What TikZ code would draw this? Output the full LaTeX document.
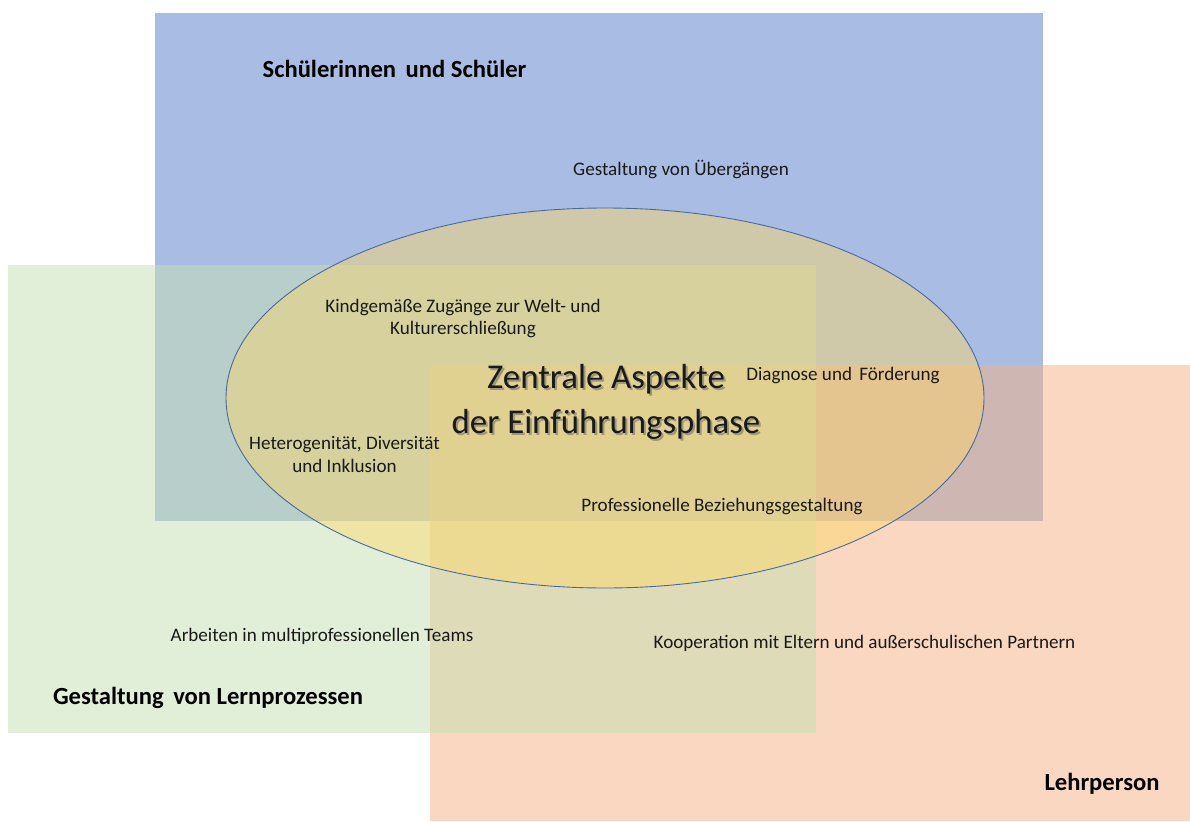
\documentclass[tikz,border=0pt]{standalone}
\usepackage{fontspec}
\setmainfont{Carlito}
\definecolor{cblue}{HTML}{A9BCE3}
\definecolor{corange}{HTML}{F4B183}
\definecolor{cgreen}{HTML}{C5E0B4}
\definecolor{cyellow}{HTML}{FFD966}
\definecolor{cedge}{HTML}{4A6A9E}
\definecolor{ctext}{HTML}{1A1A1A}
\begin{document}
\begin{tikzpicture}[x=1pt,y=-1pt,
  small/.style={font=\fontsize{19.1}{22}\selectfont, text=ctext, inner sep=0pt, align=center},
  heading/.style={font=\fontsize{24.6}{28}\selectfont\bfseries, text=black, inner sep=0pt},
  bigtext/.style={font=\fontsize{34.8}{44.5}\selectfont, inner sep=0pt, align=center}]
\useasboundingbox (0,0) rectangle (1190,821);
\fill[white] (0,0) rectangle (1190,821);
% areas
\fill[cblue] (155,13) rectangle (1043,521);
\fill[corange, opacity=0.5] (430,365) rectangle (1190,821);
\fill[cgreen, opacity=0.5] (8,265) rectangle (816,733);
% central ellipse
\fill[cyellow, opacity=0.45] (605,398) ellipse [x radius=379pt, y radius=190pt];
\draw[cedge, line width=0.9pt] (605,398) ellipse [x radius=379pt, y radius=190pt];
% headings
\node[heading] (hs) at (394.5,69) {Schülerinnen\hspace{4pt} und Schüler};
\node[heading] (hl) at (208,698) {Gestaltung\hspace{4pt} von Lernprozessen};
\node[heading] (hp) at (1102,784) {Lehrperson};
% central title with shadow
\node[bigtext, text=black!60, opacity=0.55] (zs) at (608,404) {Zentrale Aspekte\\der Einführungsphase};
\node[bigtext, text=ctext] (z) at (606,402) {Zentrale Aspekte\\der Einführungsphase};
% aspects
\node[small] (t1) at (681,169) {Gestaltung von Übergängen};
\node[small, font=\fontsize{19.1}{22}\selectfont] (t2) at (463,319) {Kindgemäße Zugänge zur Welt- und\\Kulturerschließung};
\node[small] (t3) at (843,376) {Diagnose und\hspace{3pt} Förderung};
\node[small, font=\fontsize{19.1}{23}\selectfont] (t4) at (344.5,454) {Heterogenität, Diversität\\und Inklusion};
\node[small] (t5) at (722,507) {Professionelle Beziehungsgestaltung};
\node[small] (t6) at (322,636) {Arbeiten in multiprofessionellen Teams};
\node[small] (t7) at (864.5,643) {Kooperation mit Eltern und außerschulischen Partnern};
\end{tikzpicture}
\end{document}
